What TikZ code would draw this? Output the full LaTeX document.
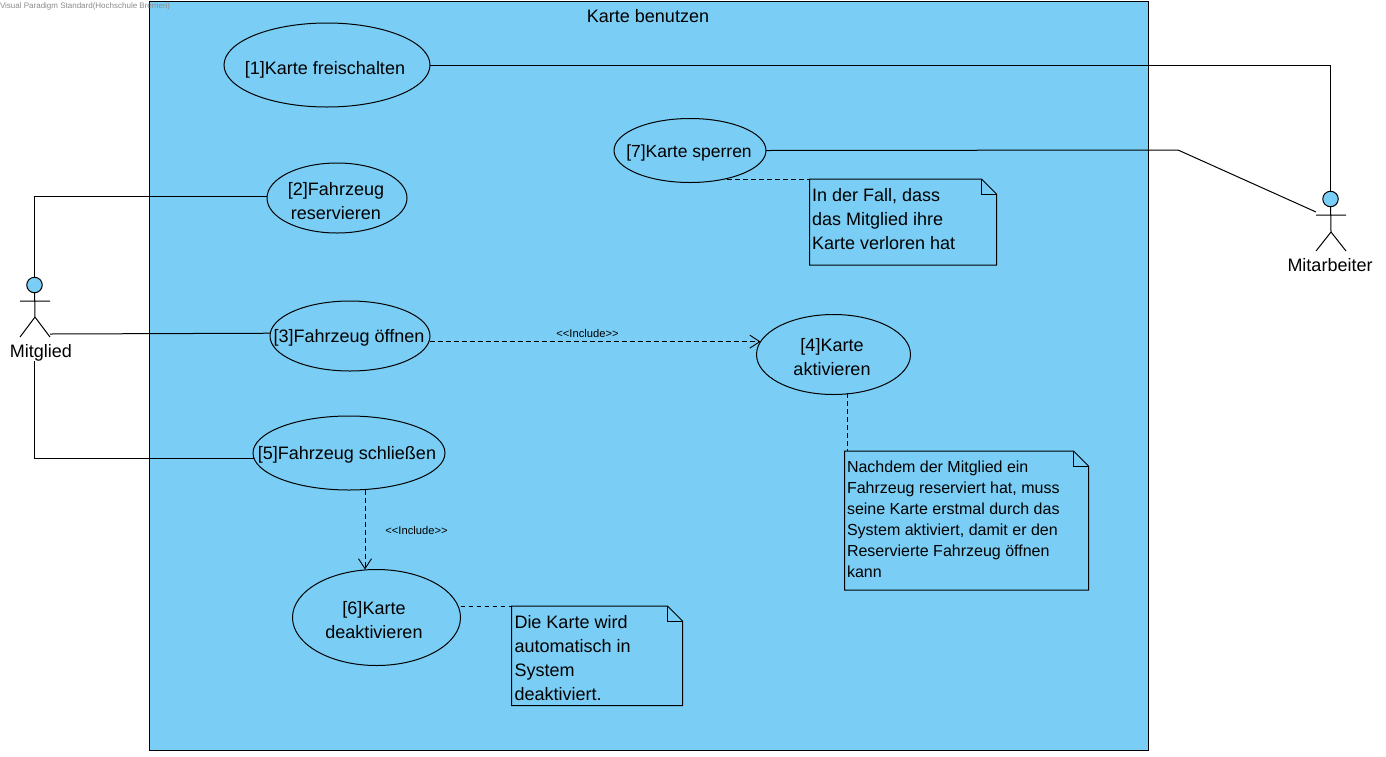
\documentclass[tikz,border=0pt]{standalone}
\usepackage{fontspec}
\setmainfont{Liberation Sans}
\usetikzlibrary{shapes.geometric,arrows.meta,calc}
\definecolor{sysblue}{HTML}{7ACEF5}
\definecolor{edge}{HTML}{000000}
\definecolor{wm}{HTML}{8A8A8A}
\tikzset{
  every node/.style={outer sep=0pt},
  line/.style={draw=edge,line width=1pt},
  dep/.style={draw=edge,line width=0.9pt,dash pattern=on 4.5pt off 3.5pt},
  incl/.style={dep,-{Straight Barb[length=10pt,width=13pt,line width=0.9pt]}},
  usecase/.style={ellipse,draw=edge,line width=1pt,inner sep=0pt},
  uclabel/.style={align=center,inner sep=0pt,font=\fontsize{18}{24}\selectfont,text=black},
  notebox/.style={inner sep=0pt,anchor=north west},
  notetext/.style={align=left,font=\fontsize{18}{24}\selectfont,anchor=north west,inner sep=0pt},
  actorname/.style={font=\fontsize{18}{20}\selectfont,inner sep=0pt},
  head/.style={circle,draw=edge,fill=sysblue,line width=1pt,minimum size=15.5pt,inner sep=0pt},
  stereo/.style={font=\fontsize{11.2}{12}\selectfont,inner sep=0pt},
}
\newcommand{\notepoly}[1]{%
  \draw[line,fill=sysblue] (#1.north west) -- ($(#1.north east)+(-15,0)$) -- ($(#1.north east)+(0,15)$) -- (#1.south east) -- (#1.south west) -- cycle;
  \draw[line] ($(#1.north east)+(-15,0)$) -- ($(#1.north east)+(-15,15)$) -- ($(#1.north east)+(0,15)$);
}
\begin{document}
\begin{tikzpicture}[x=1pt,y=-1pt]
\useasboundingbox (0,0) rectangle (1386,756);
% system boundary
\node[draw=edge,fill=sysblue,line width=1pt,minimum width=999pt,minimum height=749.5pt,inner sep=0pt,anchor=north west] (sys) at (149.5,1) {};
\node[font=\fontsize{18}{20}\selectfont,inner sep=0pt] (title) at (648,16) {Karte benutzen};
\node[font=\fontsize{8}{10}\selectfont,text=wm,anchor=west,inner sep=0pt] (wmark) at (0,6.5) {Visual Paradigm Standard(Hochschule Bremen)};
% actors
\node[head] (h1) at (34.5,285) {};
\coordinate (a1l) at (20,301);
\coordinate (a1r) at (50,301);
\coordinate (b1) at (35,317);
\coordinate (l1l) at (20,337);
\coordinate (l1r) at (50,337);
\draw[line] (h1) -- (b1) -- (l1l) (b1) -- (l1r) (a1l) -- (a1r);
\node[actorname] (mitglied) at (41,353) {Mitglied};
\node[head] (h2) at (1330.5,199) {};
\coordinate (a2l) at (1316,215);
\coordinate (a2r) at (1346,215);
\coordinate (b2) at (1331,232);
\coordinate (l2l) at (1316,251);
\coordinate (l2r) at (1346,251);
\draw[line] (h2) -- (b2) -- (l2l) (b2) -- (l2r) (a2l) -- (a2r);
\node[actorname] (mitarbeiter) at (1330,265) {Mitarbeiter};
% use cases
\node[usecase,minimum width=206pt,minimum height=84pt] (e1) at (327,65) {};
\node[usecase,minimum width=140pt,minimum height=70pt] (e2) at (337,198) {};
\node[usecase,minimum width=160pt,minimum height=70pt] (e3) at (350,336) {};
\node[usecase,minimum width=154pt,minimum height=80pt] (e4) at (833.5,354.5) {};
\node[usecase,minimum width=192pt,minimum height=74pt] (e5) at (349,453) {};
\node[usecase,minimum width=168pt,minimum height=96pt] (e6) at (376.5,617.5) {};
\node[usecase,minimum width=152pt,minimum height=64pt] (e7) at (690,150.5) {};
\node[uclabel] (t1) at (325,70) {[1]Karte freischalten};
\node[uclabel] (t2) at (336,201) {[2]Fahrzeug\\reservieren};
\node[uclabel] (t3) at (349,338) {[3]Fahrzeug öffnen};
\node[uclabel] (t4) at (832,357) {[4]Karte\\aktivieren};
\node[uclabel] (t5) at (347,455) {[5]Fahrzeug schließen};
\node[uclabel] (t6) at (374,620) {[6]Karte\\deaktivieren};
\node[uclabel,font=\fontsize{17.5}{24}\selectfont] (t7) at (689,153) {[7]Karte sperren};
% notes
\node[notebox,minimum width=187pt,minimum height=86pt] (n7) at (809.5,179) {};
\node[notebox,minimum width=244pt,minimum height=139pt] (n4) at (844.5,451) {};
\node[notebox,minimum width=171pt,minimum height=99.5pt] (n6) at (511.5,606) {};
% associations
\coordinate (c1) at (1330.5,65);
\coordinate (c7) at (1178,150);
\coordinate (ml1) at (34.5,458);
\draw[line] (e1.east) -- (c1) -- (h2.north);
\draw[line] (e7.east) -- (c7) -- ($(a2l)+(0,-3)$);
\draw[line] (h1.north) |- (e2.179);
\draw[line] ($(l1r)+(0,-3)$) -- (e3.178.5);
\draw[line] (mitglied.south -| h1) -- (ml1) -- (ml1 -| e5.183);
% includes
\draw[incl] (e3.east |- e4.170) -- (e4.170);
\draw[incl] (e5.south -| 365,0) -- (e6.north -| 365,0);
\node[stereo] (inc1) at (587.5,333) {<{}<Include>{}>};
\node[stereo] (inc2) at (416.5,530) {<{}<Include>{}>};
% note links
\draw[dep] (e7.south -| 727,0) ++(0,-3.5) -- (n7.north west);
\draw[dep] (e4.south -| 847.5,0) ++(0,-1.5) -- (n4.north -| 847.5,0);
\draw[dep] (e6.east |- n6.north west) -- (n6.north west);
% note bodies
\notepoly{n7}
\notepoly{n4}
\notepoly{n6}
\node[notetext] (tn7) at (812,188) {In der Fall, dass\\das Mitglied ihre\\Karte verloren hat};
\node[notetext,font=\fontsize{16}{21}\selectfont] (tn4) at (847,461) {Nachdem der Mitglied ein\\Fahrzeug reserviert hat, muss\\seine Karte erstmal durch das\\System aktiviert, damit er den\\Reservierte Fahrzeug öffnen\\kann};
\node[notetext] (tn6) at (514.5,615) {Die Karte wird\\automatisch in\\System\\deaktiviert.};
\end{tikzpicture}
\end{document}
